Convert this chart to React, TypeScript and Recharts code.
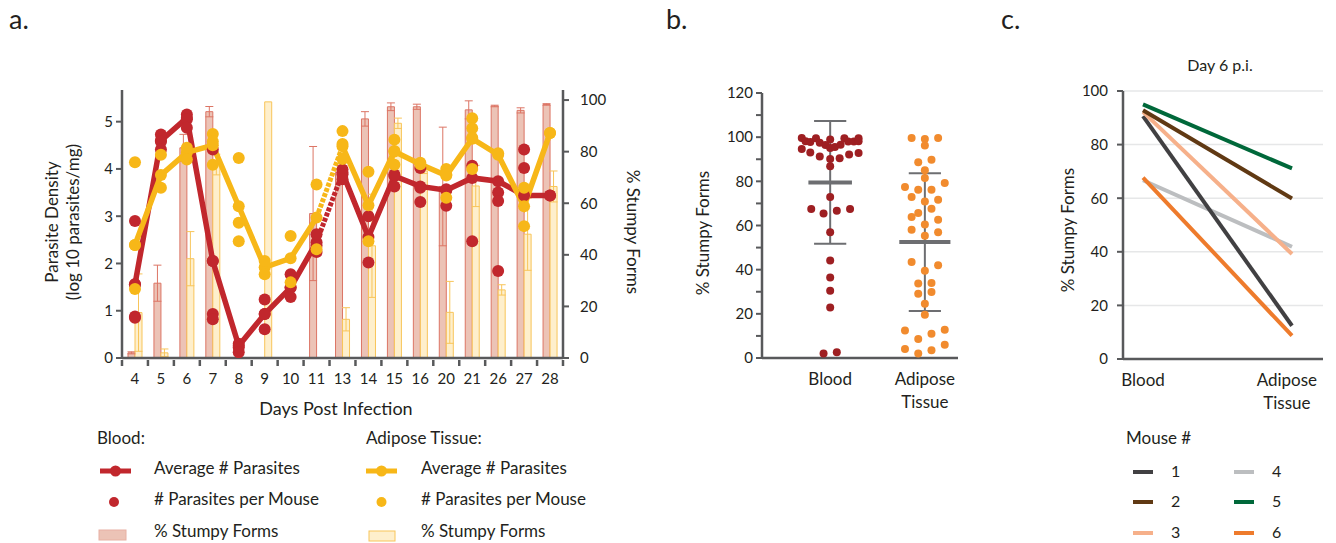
import {
  ComposedChart,
  ScatterChart,
  LineChart,
  Line,
  Bar,
  Scatter,
  ErrorBar,
  XAxis,
  YAxis,
  CartesianGrid,
  ReferenceLine,
} from 'recharts';

// ---- panel a: time course ----
const days = ['4', '5', '6', '7', '8', '9', '10', '11', '13', '14', '15', '16', '20', '21', '26', '27', '28'];
const bloodAvg = [1.56, 4.6, 5.08, 2.05, 0.26, 0.93, 1.49, 2.45, 3.92, 2.56, 3.85, 3.63, 3.55, 3.81, 3.74, 3.44, 3.44];
const adiposeAvg = [2.39, 3.87, 4.35, 4.5, 3.21, 1.92, 2.11, 2.97, 4.48, 3.23, 4.37, 4.1, 3.86, 4.64, 4.3, 3.21, 4.76];
const bloodMice = [
  [2.9, 1.56, 0.88, 0.85],
  [4.73, 4.58, 4.41],
  [5.15, 5.05, 4.87],
  [4.41, 2.05, 0.93, 0.82],
  [0.3, 0.22, 0.12],
  [1.24, 0.93, 0.61],
  [1.77, 1.49, 1.29],
  [2.62, 2.38, 2.24],
  [3.99, 3.88, 3.78],
  [3.0, 2.02],
  [3.88, 3.63],
  [4.02, 3.6, 3.3],
  [3.57, 3.22],
  [4.07, 2.47],
  [3.5, 3.32, 1.84],
  [4.41, 4.02],
  [3.44],
];
const adiposeMice = [
  [4.14, 2.39, 1.46],
  [4.3, 3.6],
  [4.45, 4.2],
  [4.74, 4.58, 4.09],
  [4.23, 2.86, 2.47],
  [2.05, 1.77],
  [2.58, 1.6],
  [3.67, 2.3],
  [4.8, 4.53, 4.21],
  [3.94, 2.47],
  [4.62, 4.38, 4.09],
  [4.13],
  [4.0, 3.88, 3.39],
  [5.07, 4.86, 4.66, 4.0],
  [4.33],
  [3.6, 2.79],
  [4.76],
];
const bloodStumpy = [2, 29, 81.5, 95.5, null, null, null, 56, 72, 92.7, 97.4, 97.4, 66.5, 96.2, 97.7, 96, 98.3];
const bloodStumpyErr = [0.4, 7, 5.2, 2, 0, 0, 0, 26, 0, 2.8, 1.5, 1, 23, 3.5, 0.3, 1, 0.3];
const adiposeStumpy = [17.6, 2, 38.5, 75, null, 99.3, null, null, 15, 43.5, 91, 72.5, 17.7, 66.7, 26.4, 48, 66.5];
const adiposeStumpyErr = [15, 1.5, 10.5, 4, 0, 0, 0, 0, 4.5, 20, 2, 1, 12, 8, 2, 14, 6];
const densityTicks = [0, 1, 2, 3, 4, 5];
const pctTicks = [0, 20, 40, 60, 80, 100];
const lastBeforeGap = 7; // day 11, day 12 was not sampled

// ---- panel b: stumpy forms per cell pool ----
const groups = ['Blood', 'Adipose Tissue'];
// [jitter, % stumpy]
const bloodCells = [
  [-0.3, 99.6], [-0.26, 98.2], [-0.21, 97.8], [-0.15, 99.5], [-0.11, 97.5], [-0.05, 96.5], [0, 99.0], [0, 95.1],
  [0.05, 95.6], [0.11, 96.6], [0.15, 99.5], [0.19, 98.0], [0.25, 98.0], [0.3, 99.5], [0.3, 98.1],
  [-0.3, 94.6], [-0.21, 93.1], [-0.11, 91.3], [0, 90.1], [0.1, 90.4], [0.2, 92.1], [0.3, 92.8],
  [0, 86.8], [0, 72.9], [-0.2, 67.5], [-0.07, 65.4], [0.07, 66.7], [0.21, 67.5], [0, 56.9],
  [0, 44.1], [0, 36.5], [0, 30.5], [0, 22.9], [-0.07, 2.0], [0.07, 2.6],
];
const adiposeCells = [
  [-0.14, 99.6], [0, 99.2], [0.14, 99.6], [0, 96.2], [-0.07, 88.6], [0.07, 89.8], [0, 85], [0, 81.5],
  [-0.21, 77.4], [-0.07, 76.2], [0.07, 76.2], [0.21, 79.2], [-0.14, 72.9], [0, 70.9], [0.14, 71.7],
  [-0.07, 65.7], [0.07, 67.6], [-0.14, 63.8], [0.14, 62.6], [-0.14, 58.1], [0, 60.4], [0.14, 56.9], [0, 55.4],
  [-0.14, 43.5], [0.14, 42], [0, 39.5], [-0.07, 33.7], [0.07, 34], [-0.07, 29.1], [0.07, 29.9], [0, 24.6],
  [0, 19.6], [-0.21, 12.5], [0.21, 12.8], [-0.07, 8.6], [0.07, 11], [-0.21, 4.1], [-0.07, 2], [0.07, 3.5], [0.21, 6.0],
];
const groupMean = [79.5, 52.5];
const groupSd = [27.8, 31.2];
const pctTicksB = [0, 10, 20, 30, 40, 50, 60, 70, 80, 90, 100, 110, 120];

// ---- panel c: day 6 per mouse ----
const mice = ['1', '2', '3', '4', '5', '6'];
const mouseBlood = [90.6, 92.8, 92.2, 66.7, 95, 67.7];
const mouseAdipose = [12.4, 59.9, 39.2, 41.9, 71.1, 8.7];
const mouseColors = ['#414042', '#603913', '#f6b08a', '#bcbec0', '#00683a', '#ee7b2c'];
const drawOrder = [3, 0, 2, 1, 5, 4];

const RED = '#c1272d';
const YEL = '#f7b718';
const AXIS = '#58595b';
const TXT = '#231f20';
const FONT = 'Lato, "Open Sans", sans-serif';
const BW = 441 / 17;

const rowsA = days.map((d, i) => {
  const r: Record<string, any> = {
    day: d,
    bloodPre: i <= lastBeforeGap ? bloodAvg[i] : null,
    bloodPost: i > lastBeforeGap ? bloodAvg[i] : null,
    bloodGap: i === lastBeforeGap || i === lastBeforeGap + 1 ? bloodAvg[i] : null,
    adiPre: i <= lastBeforeGap ? adiposeAvg[i] : null,
    adiPost: i > lastBeforeGap ? adiposeAvg[i] : null,
    adiGap: i === lastBeforeGap || i === lastBeforeGap + 1 ? adiposeAvg[i] : null,
    bStumpy: bloodStumpy[i],
    bErr: bloodStumpyErr[i],
    aStumpy: adiposeStumpy[i],
    aErr: adiposeStumpyErr[i],
  };
  for (let k = 0; k < 4; k++) {
    r['bm' + k] = bloodMice[i][k] ?? null;
    r['am' + k] = adiposeMice[i][k] ?? null;
  }
  return r;
});

const cellsB = bloodCells.map(([j, v]) => ({ x: 1 + j, y: v }));
const cellsA = adiposeCells.map(([j, v]) => ({ x: 2 + j, y: v }));

const rowsC = groups.map((g, gi) => {
  const r: Record<string, any> = { t: g };
  mice.forEach((m, i) => {
    r['m' + m] = gi === 0 ? mouseBlood[i] : mouseAdipose[i];
  });
  return r;
});

function DayTick(props: any) {
  const { x, y, payload, index } = props;
  return (
    <g>
      <line x1={x - BW / 2} x2={x - BW / 2} y1={y} y2={y + 6} stroke={AXIS} strokeWidth={2.5} />
      {index === days.length - 1 && (
        <line x1={x + BW / 2} x2={x + BW / 2} y1={y} y2={y + 6} stroke={AXIS} strokeWidth={2.5} />
      )}
      <text x={x} y={y + 24} textAnchor="middle" fontSize={15} fill={TXT}>
        {payload.value}
      </text>
    </g>
  );
}

function GroupTick(props: any) {
  const { x, y, payload } = props;
  const label = typeof payload.value === 'number' ? groups[payload.value - 1] : payload.value;
  const parts = String(label).split(' ');
  return (
    <g>
      {parts.map((p, i) => (
        <text key={p} x={x} y={y + 25 + i * 23} textAnchor="middle" fontSize={17} fill={TXT}>
          {p}
        </text>
      ))}
    </g>
  );
}

const redDot = { r: 6, fill: RED, stroke: RED, strokeWidth: 0 };
const yelDot = { r: 6, fill: YEL, stroke: YEL, strokeWidth: 0 };

function PanelA() {
  return (
    <ComposedChart
      width={660}
      height={400}
      data={rowsA}
      margin={{ top: 90, right: 37, bottom: 12, left: 62 }}
      barGap={0}
    >
      <XAxis
        dataKey="day"
        xAxisId="d"
        tick={<DayTick />}
        tickLine={false}
        tickSize={0}
        height={30}
        interval={0}
        axisLine={{ stroke: AXIS, strokeWidth: 2.5 }}
      />
      <YAxis
        yAxisId="L"
        domain={[0, 5.67]}
        ticks={densityTicks}
        allowDataOverflow
        width={60}
        tickSize={6}
        tickMargin={3}
        tick={{ fill: TXT, fontSize: 15 }}
        tickLine={{ stroke: AXIS, strokeWidth: 2 }}
        axisLine={{ stroke: AXIS, strokeWidth: 2.5 }}
      />
      <YAxis
        yAxisId="R"
        orientation="right"
        domain={[0, 103.9]}
        ticks={pctTicks}
        allowDataOverflow
        width={60}
        tickSize={6}
        tickMargin={11}
        tick={{ fill: TXT, fontSize: 15, textAnchor: 'start' }}
        tickLine={{ stroke: AXIS, strokeWidth: 2 }}
        axisLine={{ stroke: AXIS, strokeWidth: 2.5 }}
      />
      <Bar xAxisId="d" yAxisId="R" dataKey="bStumpy" barSize={7} fill="#ecc3b6" stroke="#dc7565" strokeWidth={1} isAnimationActive={false}>
        <ErrorBar dataKey="bErr" width={4} stroke="#dc7565" strokeWidth={1} />
      </Bar>
      <Bar xAxisId="d" yAxisId="R" dataKey="aStumpy" barSize={7} fill="#feefcc" stroke="#f8c55a" strokeWidth={1} isAnimationActive={false}>
        <ErrorBar dataKey="aErr" width={4} stroke="#f8c55a" strokeWidth={1} />
      </Bar>
      {['bloodPre', 'bloodPost'].map((k) => (
        <Line key={k} xAxisId="d" yAxisId="L" dataKey={k} stroke={RED} strokeWidth={5.5} dot={redDot} activeDot={false} isAnimationActive={false} />
      ))}
      <Line xAxisId="d" yAxisId="L" dataKey="bloodGap" stroke={RED} strokeWidth={5} strokeDasharray="4 1.5" dot={false} activeDot={false} isAnimationActive={false} />
      {[0, 1, 2, 3].map((k) => (
        <Line key={'bm' + k} xAxisId="d" yAxisId="L" dataKey={'bm' + k} stroke="none" dot={redDot} activeDot={false} isAnimationActive={false} />
      ))}
      {['adiPre', 'adiPost'].map((k) => (
        <Line key={k} xAxisId="d" yAxisId="L" dataKey={k} stroke={YEL} strokeWidth={5.5} dot={yelDot} activeDot={false} isAnimationActive={false} />
      ))}
      <Line xAxisId="d" yAxisId="L" dataKey="adiGap" stroke={YEL} strokeWidth={5} strokeDasharray="4 1.5" dot={false} activeDot={false} isAnimationActive={false} />
      {[0, 1, 2, 3].map((k) => (
        <Line key={'am' + k} xAxisId="d" yAxisId="L" dataKey={'am' + k} stroke="none" dot={yelDot} activeDot={false} isAnimationActive={false} />
      ))}
    </ComposedChart>
  );
}

function PanelB() {
  const capW = 0.17;
  return (
    <ScatterChart width={320} height={420} margin={{ top: 93, right: 22, bottom: 12, left: 52 }}>
      <XAxis
        type="number"
        dataKey="x"
        domain={[0.28, 2.35]}
        ticks={[1, 2]}
        allowDataOverflow
        height={50}
        tickLine={false}
        tickSize={0}
        tick={<GroupTick />}
        axisLine={{ stroke: AXIS, strokeWidth: 2.5 }}
      />
      <YAxis
        type="number"
        dataKey="y"
        domain={[0, 120]}
        ticks={pctTicksB}
        interval={0}
        width={50}
        tickSize={6}
        tickMargin={3}
        tickFormatter={(v: number) => (v % 20 === 0 ? String(v) : '')}
        tick={{ fill: TXT, fontSize: 15 }}
        tickLine={{ stroke: AXIS, strokeWidth: 2 }}
        axisLine={{ stroke: AXIS, strokeWidth: 2.5 }}
      />
      <Scatter data={cellsB} fill="#9e1f22" shape={(p: any) => <circle cx={p.cx} cy={p.cy} r={4} fill="#9e1f22" />} isAnimationActive={false} />
      <Scatter data={cellsA} fill="#f18b2e" shape={(p: any) => <circle cx={p.cx} cy={p.cy} r={4} fill="#f18b2e" />} isAnimationActive={false} />
      {groupMean.map((m, i) => {
        const c = i + 1;
        const half = i === 0 ? 0.23 : 0.27;
        const sd = groupSd[i];
        return [
          <ReferenceLine key={'v' + i} segment={[{ x: c, y: m - sd }, { x: c, y: m + sd }]} stroke="#6d6e71" strokeWidth={2} />,
          <ReferenceLine key={'t' + i} segment={[{ x: c - capW, y: m + sd }, { x: c + capW, y: m + sd }]} stroke="#6d6e71" strokeWidth={2} />,
          <ReferenceLine key={'b' + i} segment={[{ x: c - capW, y: m - sd }, { x: c + capW, y: m - sd }]} stroke="#6d6e71" strokeWidth={2} />,
          <ReferenceLine key={'m' + i} segment={[{ x: c - half, y: m }, { x: c + half, y: m }]} stroke="#6d6e71" strokeWidth={4} />,
        ];
      })}
    </ScatterChart>
  );
}

function PanelC() {
  return (
    <LineChart width={296} height={420} data={rowsC} margin={{ top: 91, right: 13, bottom: 11, left: 33 }}>
      <CartesianGrid vertical={false} stroke="#e6e7e8" strokeWidth={1.5} />
      <XAxis
        dataKey="t"
        padding={{ left: 20, right: 31 }}
        height={50}
        tickLine={false}
        tickSize={0}
        tick={<GroupTick />}
        axisLine={{ stroke: AXIS, strokeWidth: 2.5 }}
      />
      <YAxis
        domain={[0, 100]}
        ticks={pctTicks}
        width={50}
        tickSize={6}
        tickMargin={9}
        tick={{ fill: TXT, fontSize: 15 }}
        tickLine={{ stroke: AXIS, strokeWidth: 2 }}
        axisLine={{ stroke: AXIS, strokeWidth: 2.5 }}
      />
      {drawOrder.map((i) => (
        <Line
          key={mice[i]}
          dataKey={'m' + mice[i]}
          stroke={mouseColors[i]}
          strokeWidth={4}
          dot={false}
          activeDot={false}
          isAnimationActive={false}
        />
      ))}
    </LineChart>
  );
}

function Overlay() {
  const t = { fill: TXT, fontFamily: FONT } as const;
  return (
    <svg width={1336} height={543} style={{ position: 'absolute', left: 0, top: 0, pointerEvents: 'none' }}>
      <text x={9} y={29} fontSize={27} {...t}>a.</text>
      <text x={666} y={29} fontSize={27} {...t}>b.</text>
      <text x={1001} y={29} fontSize={27} {...t}>c.</text>

      <text transform="translate(58,222) rotate(-90)" textAnchor="middle" fontSize={17} {...t}>Parasite Density</text>
      <text transform="translate(79,222) rotate(-90)" textAnchor="middle" fontSize={17} {...t}>(log 10 parasites/mg)</text>
      <text transform="translate(627,232) rotate(90)" textAnchor="middle" fontSize={17} {...t}>% Stumpy Forms</text>
      <text x={336} y={415} textAnchor="middle" fontSize={18} {...t}>Days Post Infection</text>

      <text transform="translate(709,233) rotate(-90)" textAnchor="middle" fontSize={17} {...t}>% Stumpy Forms</text>
      <text transform="translate(1074,230) rotate(-90)" textAnchor="middle" fontSize={17} {...t}>% Stumpy Forms</text>
      <text x={1220} y={71} textAnchor="middle" fontSize={16} {...t}>Day 6 p.i.</text>

      {/* legend a */}
      <text x={97} y={444} fontSize={17} {...t}>Blood:</text>
      <line x1={100} x2={131} y1={471} y2={471} stroke={RED} strokeWidth={5} />
      <circle cx={115.5} cy={471} r={5.5} fill={RED} />
      <text x={154} y={474} fontSize={17} {...t}>Average # Parasites</text>
      <circle cx={114} cy={502} r={5} fill={RED} />
      <text x={154} y={505} fontSize={17} {...t}>&#35; Parasites per Mouse</text>
      <rect x={99} y={530} width={27} height={10} fill="#ecc3b6" stroke="#e8b0a3" strokeWidth={1} />
      <text x={154} y={537} fontSize={17} {...t}>% Stumpy Forms</text>

      <text x={366} y={444} fontSize={17} {...t}>Adipose Tissue:</text>
      <line x1={366} x2={397} y1={471} y2={471} stroke={YEL} strokeWidth={5} />
      <circle cx={381.5} cy={471} r={5.5} fill={YEL} />
      <text x={421} y={474} fontSize={17} {...t}>Average # Parasites</text>
      <circle cx={381.5} cy={502} r={5} fill={YEL} />
      <text x={421} y={505} fontSize={17} {...t}>&#35; Parasites per Mouse</text>
      <rect x={369} y={531} width={26} height={10} fill="#feefcc" stroke="#f8c55a" strokeWidth={1} />
      <text x={421} y={537} fontSize={17} {...t}>% Stumpy Forms</text>

      {/* legend c */}
      <text x={1126} y={444} fontSize={17} {...t}>Mouse #</text>
      {mice.map((m, i) => {
        const col = Math.floor(i / 3);
        const row = i % 3;
        const y = [472, 502, 533][row];
        const x0 = col === 0 ? 1133 : 1234;
        return (
          <g key={m}>
            <line x1={x0} x2={x0 + 20} y1={y} y2={y} stroke={mouseColors[i]} strokeWidth={4} />
            <text x={x0 + 38} y={y + 5} fontSize={16} {...t}>{m}</text>
          </g>
        );
      })}
    </svg>
  );
}

export default function App() {
  return (
    <div
      style={{
        position: 'absolute',
        left: 0,
        top: 0,
        width: 1336,
        height: 543,
        background: '#fff',
        overflow: 'hidden',
        fontFamily: FONT,
      }}
    >
      <div style={{ position: 'absolute', left: 0, top: 0 }}>
        <PanelA />
      </div>
      <div style={{ position: 'absolute', left: 660, top: 0 }}>
        <PanelB />
      </div>
      <div style={{ position: 'absolute', left: 1040, top: 0 }}>
        <PanelC />
      </div>
      <Overlay />
    </div>
  );
}
